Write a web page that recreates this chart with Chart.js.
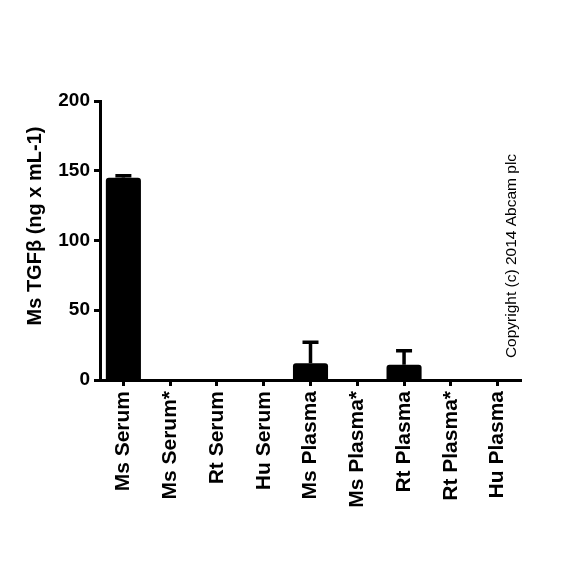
<!DOCTYPE html>
<html>
<head>
<meta charset="utf-8">
<script src="https://cdn.jsdelivr.net/npm/chart.js@4"></script>
<style>
  html, body { margin: 0; padding: 0; background: #fff; }
  #wrap { width: 584px; height: 584px; }
</style>
</head>
<body>
<div id="wrap"><canvas id="tgfChart"></canvas></div>
<script>
// categories and measured values
const samples = ['Ms Serum', 'Ms Serum*', 'Rt Serum', 'Hu Serum', 'Ms Plasma', 'Ms Plasma*', 'Rt Plasma', 'Rt Plasma*', 'Hu Plasma'];
const tgfMeans = [145, 0, 0, 0, 12, 0, 11, 0, 0];
const tgfErrors = [1.5, 0, 0, 0, 15, 0, 10, 0, 0];
const yTicks = [0, 50, 100, 150, 200];

const FONT = '"Liberation Sans", Arial, sans-serif';

// upward error bars, positioned through the chart scales
const errorBars = {
    id: 'errorBars',
    afterDatasetsDraw(chart) {
        const ctx = chart.ctx;
        const x = chart.scales.x, y = chart.scales.y;
        ctx.save();
        ctx.strokeStyle = '#000';
        ctx.lineWidth = 3.5;
        tgfErrors.forEach((err, i) => {
            if (!err) return;
            const cx = x.getPixelForValue(i);
            const top = y.getPixelForValue(tgfMeans[i] + err);
            const base = y.getPixelForValue(tgfMeans[i]);
            ctx.beginPath();
            ctx.moveTo(cx, base);
            ctx.lineTo(cx, top);
            ctx.moveTo(cx - 8, top);
            ctx.lineTo(cx + 8, top);
            ctx.stroke();
        });
        ctx.restore();
    }
};

// axis title and copyright note
const sideTexts = {
    id: 'sideTexts',
    afterDraw(chart) {
        const ctx = chart.ctx;
        ctx.save();
        ctx.fillStyle = '#000';
        ctx.textAlign = 'center';
        ctx.textBaseline = 'middle';

        ctx.save();
        ctx.translate(35, 226);
        ctx.rotate(-Math.PI / 2);
        ctx.font = 'bold 20px ' + FONT;
        ctx.fillText('Ms TGFβ (ng x mL-1)', 0, 0);
        ctx.restore();

        ctx.save();
        ctx.translate(512, 256);
        ctx.rotate(-Math.PI / 2);
        ctx.font = '15.5px ' + FONT;
        ctx.fillText('Copyright (c) 2014 Abcam plc', 0, 0);
        ctx.restore();

        ctx.restore();
    }
};

new Chart(document.getElementById('tgfChart').getContext('2d'), {
    type: 'bar',
    data: {
        labels: samples,
        datasets: [{
            label: 'Ms TGFβ',
            data: tgfMeans,
            backgroundColor: '#000',
            borderWidth: 0,
            borderRadius: 3,
            borderSkipped: 'bottom',
            categoryPercentage: 1,
            barPercentage: 0.75
        }]
    },
    options: {
        responsive: true,
        maintainAspectRatio: false,
        animation: false,
        layout: { padding: { left: 0, top: 101, right: 63, bottom: 0 } },
        plugins: {
            legend: { display: false },
            tooltip: { enabled: false }
        },
        scales: {
            x: {
                afterFit(scale) { scale.height = 204; },
                grid: {
                    offset: false,
                    drawOnChartArea: false,
                    tickLength: 6,
                    tickWidth: 3,
                    tickColor: '#000'
                },
                border: { color: '#000', width: 3 },
                ticks: {
                    autoSkip: false,
                    minRotation: 90,
                    maxRotation: 90,
                    padding: 5,
                    color: '#000',
                    font: { family: FONT, size: 21, weight: 'bold' }
                }
            },
            y: {
                min: 0,
                max: 200,
                afterFit(scale) { scale.width = 100; },
                afterBuildTicks(scale) { scale.ticks = yTicks.map(v => ({ value: v })); },
                grid: {
                    drawOnChartArea: false,
                    tickLength: 6,
                    tickWidth: 3,
                    tickColor: '#000'
                },
                border: { color: '#000', width: 3 },
                ticks: {
                    padding: 4,
                    color: '#000',
                    font: { family: FONT, size: 19, weight: 'bold' }
                }
            }
        }
    },
    plugins: [errorBars, sideTexts]
});
</script>
</body>
</html>
